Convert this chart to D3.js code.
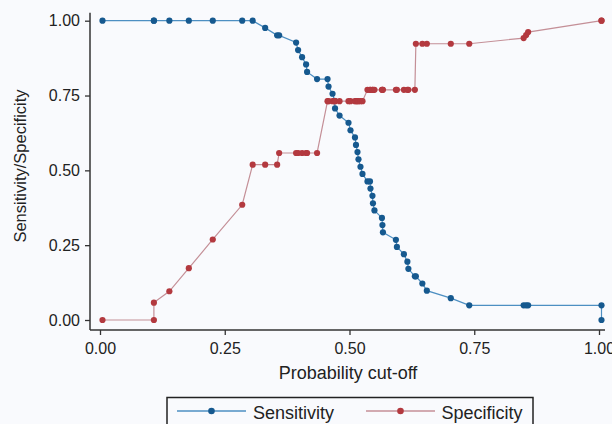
<!DOCTYPE html>
<html>
<head>
<meta charset="utf-8">
<script src="https://cdn.jsdelivr.net/npm/d3@7"></script>
<style>
  html, body { margin: 0; padding: 0; background: #f9fafd; }
  svg { display: block; }
  text { font-family: "Liberation Sans", Arial, Helvetica, sans-serif; fill: #222; }
</style>
</head>
<body>
<svg id="chart" width="612" height="424"></svg>
<script>
// Probability cut-offs (shared by both series)
const cutoffs = [0.005, 0.108, 0.108, 0.139, 0.178, 0.226, 0.285, 0.306, 0.331, 0.355,
  0.359, 0.393, 0.397, 0.405, 0.413, 0.415, 0.435, 0.456, 0.458, 0.466,
  0.470, 0.471, 0.480, 0.498, 0.502, 0.511, 0.513, 0.516, 0.518, 0.522,
  0.526, 0.536, 0.541, 0.542, 0.546, 0.547, 0.550, 0.565, 0.566, 0.567,
  0.593, 0.595, 0.609, 0.616, 0.618, 0.631, 0.633, 0.646, 0.655, 0.703,
  0.740, 0.849, 0.854, 0.858, 1.005, 1.005];
const sensitivity = [1.000, 1.000, 1.000, 1.000, 1.000, 1.000, 1.000, 1.000, 0.976, 0.951,
  0.951, 0.927, 0.902, 0.878, 0.854, 0.829, 0.805, 0.805, 0.780, 0.756,
  0.732, 0.707, 0.683, 0.659, 0.634, 0.610, 0.585, 0.561, 0.537, 0.512,
  0.488, 0.463, 0.463, 0.439, 0.415, 0.390, 0.366, 0.341, 0.317, 0.293,
  0.268, 0.244, 0.220, 0.195, 0.171, 0.146, 0.146, 0.122, 0.098, 0.073,
  0.049, 0.049, 0.049, 0.049, 0.049, 0.000];
const specificity = [0.000, 0.000, 0.058, 0.096, 0.173, 0.269, 0.385, 0.519, 0.519, 0.519,
  0.558, 0.558, 0.558, 0.558, 0.558, 0.558, 0.558, 0.731, 0.731, 0.731,
  0.731, 0.731, 0.731, 0.731, 0.731, 0.731, 0.731, 0.731, 0.731, 0.731,
  0.731, 0.769, 0.769, 0.769, 0.769, 0.769, 0.769, 0.769, 0.769, 0.769,
  0.769, 0.769, 0.769, 0.769, 0.769, 0.769, 0.923, 0.923, 0.923, 0.923,
  0.923, 0.942, 0.952, 0.962, 1.000, 1.000];
const xTicks = [0, 0.25, 0.5, 0.75, 1];
const yTicks = [0, 0.25, 0.5, 0.75, 1];
const seriesNames = ["Sensitivity", "Specificity"];

const colors = {
  Sensitivity: { line: "#4d8fc2", marker: "#16598f" },
  Specificity: { line: "#c48f97", marker: "#b3393f" }
};

const svg = d3.select("#chart");
const x = d3.scaleLinear().domain([0, 1]).range([100, 599]);
const y = d3.scaleLinear().domain([0, 1]).range([320, 20.7]);

// Axes
const fmt = d3.format(".2f");
const yAxis = d3.axisLeft(y).tickValues(yTicks).tickFormat(fmt).tickSize(5).tickPadding(5);
const xAxis = d3.axisBottom(x).tickValues(xTicks).tickFormat(fmt).tickSize(5).tickPadding(8);

const axisX0 = 90, axisY0 = 330;

const gy = svg.append("g").attr("transform", `translate(${axisX0},0)`).call(yAxis);
const gx = svg.append("g").attr("transform", `translate(0,${axisY0})`).call(xAxis);
[gy, gx].forEach(g => {
  g.select(".domain").remove();
  g.selectAll(".tick line").attr("stroke", "#333").attr("stroke-width", 1.3);
  g.selectAll(".tick text").style("font-size", "16px").attr("fill", "#222");
});
svg.append("line").attr("x1", axisX0).attr("x2", axisX0)
  .attr("y1", y(1) - 8).attr("y2", axisY0)
  .attr("stroke", "#333").attr("stroke-width", 1.5);
svg.append("line").attr("x1", axisX0).attr("x2", x(1) + 6)
  .attr("y1", axisY0).attr("y2", axisY0)
  .attr("stroke", "#333").attr("stroke-width", 1.5);

// Titles
svg.append("text").attr("x", 348).attr("y", 379).attr("text-anchor", "middle")
  .style("font-size", "18px").text("Probability cut-off");
svg.append("text").attr("transform", "translate(26,166) rotate(-90)")
  .attr("text-anchor", "middle").style("font-size", "16.5px").text("Sensitivity/Specificity");

// Series
const seriesData = {
  Sensitivity: cutoffs.map((c, i) => [c, sensitivity[i]]),
  Specificity: cutoffs.map((c, i) => [c, specificity[i]])
};
const line = d3.line().x(d => x(d[0])).y(d => y(d[1]));

seriesNames.forEach(name => {
  svg.append("path").datum(seriesData[name])
    .attr("d", line).attr("fill", "none")
    .attr("stroke", colors[name].line).attr("stroke-width", 1.2);
});
seriesNames.forEach(name => {
  svg.append("g").selectAll("circle").data(seriesData[name]).join("circle")
    .attr("cx", d => x(d[0])).attr("cy", d => y(d[1])).attr("r", 3.1)
    .attr("fill", colors[name].marker);
});

// Legend
const lg = svg.append("g");
lg.append("rect").attr("x", 167).attr("y", 397.5).attr("width", 366).attr("height", 40)
  .attr("fill", "#f9fafd").attr("stroke", "#222").attr("stroke-width", 1.5);
const legendItems = [
  { name: "Sensitivity", x1: 177, x2: 246, text: 253 },
  { name: "Specificity", x1: 366, x2: 435, text: 441.5 }
];
legendItems.forEach(it => {
  const cy = 411;
  lg.append("line").attr("x1", it.x1).attr("x2", it.x2).attr("y1", cy).attr("y2", cy)
    .attr("stroke", colors[it.name].line).attr("stroke-width", 1.6);
  lg.append("circle").attr("cx", (it.x1 + it.x2) / 2).attr("cy", cy).attr("r", 3.3)
    .attr("fill", colors[it.name].marker);
  lg.append("text").attr("x", it.text).attr("y", 419).style("font-size", "18px").text(it.name);
});
</script>
</body>
</html>
